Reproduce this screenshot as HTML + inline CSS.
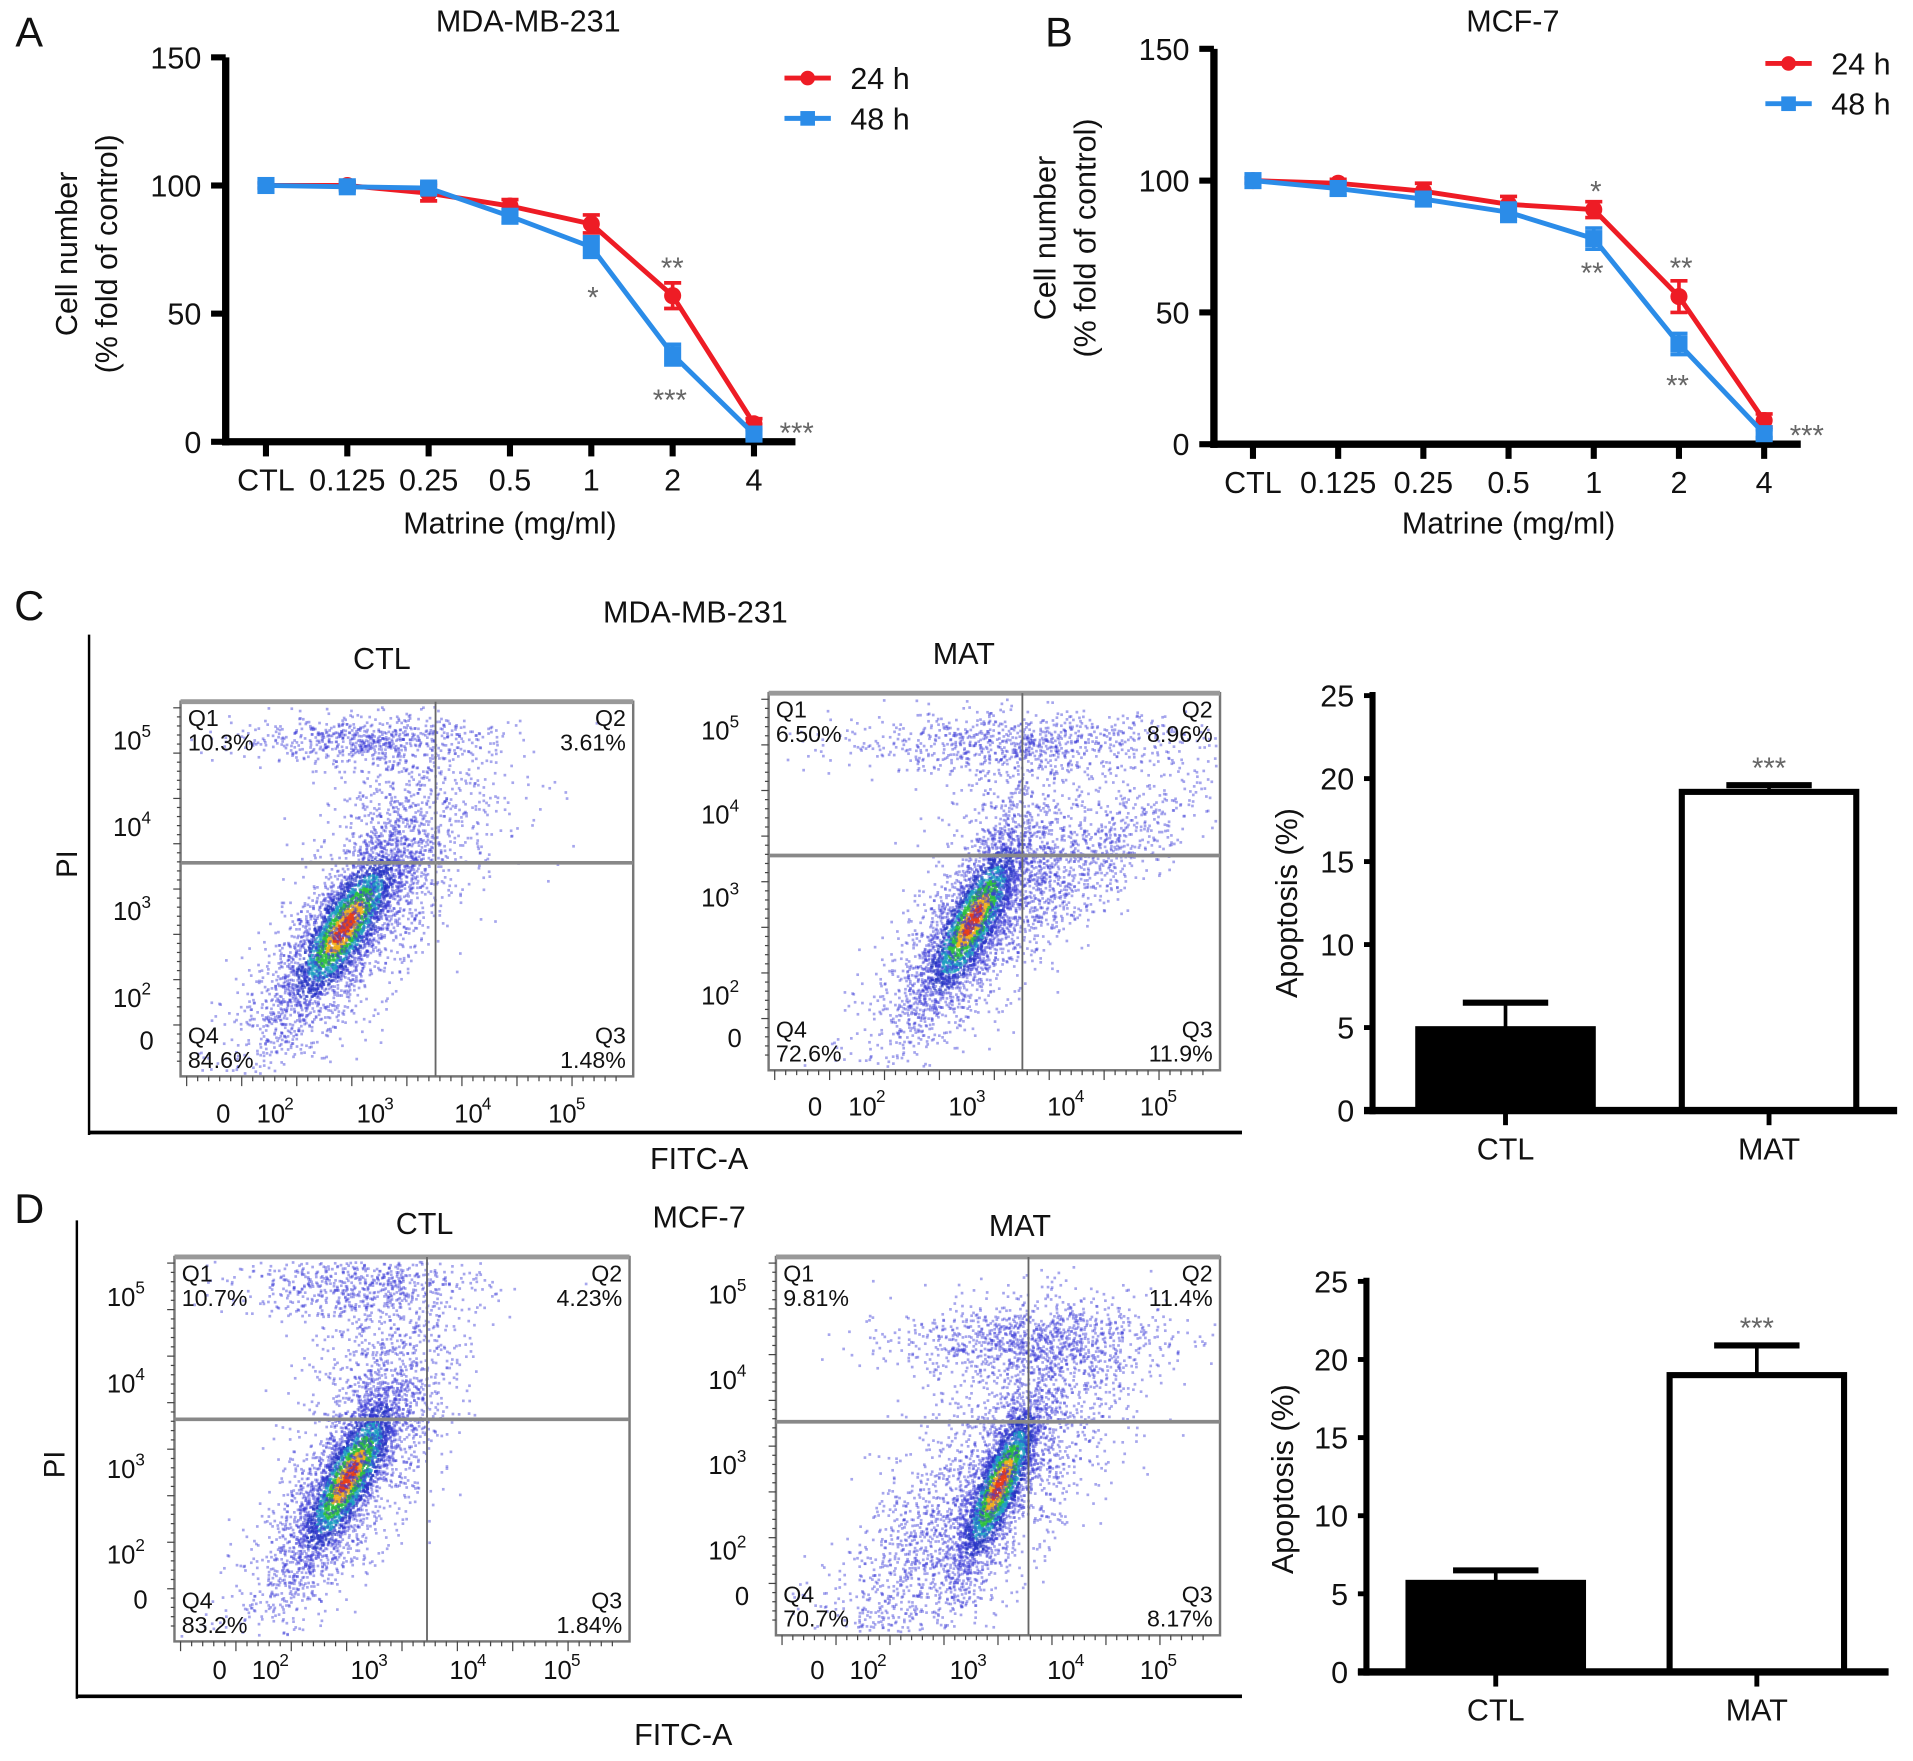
<!DOCTYPE html>
<html><head><meta charset="utf-8"><style>
html,body{margin:0;padding:0;background:#fff}
svg{display:block}
text{font-family:"Liberation Sans",sans-serif;fill:#111}
</style></head><body>
<svg id="fig" width="1913" height="1761" viewBox="0 0 1568 1443" preserveAspectRatio="none" xmlns="http://www.w3.org/2000/svg">
<g id="root"></g>
</svg>
<script>
// ---- Data ----
const doseLabels = ["CTL","0.125","0.25","0.5","1","2","4"];
const yTicksLine = [0,50,100,150];
const a24 = [100,100,97,92,85,57,7];
const a24err = [1,1.5,3,2.5,3.5,5,2];
const a48 = [100,99.5,99,88,76,34,3];
const a48err = [1,1.5,2,2.5,4,4,1.5];
const b24 = [100,99,96,91,89,56,9];
const b24err = [1,1.5,3,3,3,6,2.5];
const b48 = [100,97,93,88,78,38,4];
const b48err = [1,2.5,2.5,3.5,4,4,1.5];
const barCats = ["CTL","MAT"];
const barTicks = [0,5,10,15,20,25];
const cBars = [4.9,19.2];
const cErr = [1.6,0.4];
const dBars = [5.7,19.0];
const dErr = [0.8,1.9];

const NS="http://www.w3.org/2000/svg";
const root=document.getElementById('root');
function el(tag,attrs,parent,txt){const e=document.createElementNS(NS,tag);for(const k in attrs)e.setAttribute(k,attrs[k]);if(txt!==undefined)e.textContent=txt;(parent||root).appendChild(e);return e;}
function T(x,y,s,size,opt,parent){opt=opt||{};const a={x:x,y:y,'font-size':size,'text-anchor':opt.anchor||'middle'};if(opt.rot)a.transform='rotate(-90 '+x+' '+y+')';if(opt.fill)a.style='fill:'+opt.fill;const t=el('text',a,parent,s);return t;}

// ---- Line chart ----
function lineChart(o){
  const g=el('g',{});
  const ys=v=>o.yBot-(v/150)*(o.yBot-o.yTop);
  const xs=i=>o.xFirst+i*(o.xLast-o.xFirst)/6;
  el('line',{x1:o.ax,y1:o.yTop,x2:o.ax,y2:o.yBot+3,stroke:'#000','stroke-width':6},g);
  el('line',{x1:o.ax-3,y1:o.yBot,x2:o.axEnd,y2:o.yBot,stroke:'#000','stroke-width':6},g);
  yTicksLine.forEach(v=>{el('line',{x1:o.ax-12,y1:ys(v),x2:o.ax,y2:ys(v),stroke:'#000','stroke-width':5},g);T(o.ax-20,ys(v)+9,String(v),25,{anchor:'end',name:'y-tick-label'},g);});
  doseLabels.forEach((l,i)=>{el('line',{x1:xs(i),y1:o.yBot,x2:xs(i),y2:o.yBot+12,stroke:'#000','stroke-width':5},g);T(xs(i),o.yBot+40,l,25,{name:'x-tick-label'},g);});
  [[o.d24,o.e24,'#ee1c25','circle','series-24h'],[o.d48,o.e48,'#2b8ce8','square','series-48h']].forEach(s=>{
    const sg=el('g',{},g);
    el('polyline',{points:s[0].map((v,i)=>xs(i)+','+ys(v)).join(' '),fill:'none',stroke:s[2],'stroke-width':4},sg);
    s[0].forEach((v,i)=>{
      const x=xs(i),y1=ys(v+s[1][i]),y2=ys(v-s[1][i]);
      el('line',{x1:x,y1:y1,x2:x,y2:y2,stroke:s[2],'stroke-width':3},sg);
      el('line',{x1:x-7,y1:y1,x2:x+7,y2:y1,stroke:s[2],'stroke-width':3},sg);
      el('line',{x1:x-7,y1:y2,x2:x+7,y2:y2,stroke:s[2],'stroke-width':3},sg);
      if(s[3]==='circle')el('circle',{cx:x,cy:ys(v),r:7,fill:s[2]},sg);
      else el('rect',{x:x-7,y:ys(v)-7,width:14,height:14,fill:s[2]},sg);
    });
  });
  T(o.titleX,26+o.dy,o.title,25,{name:'chart-title'},g);
  T((o.xFirst+o.xLast)/2,437,'Matrine (mg/ml)',25,{name:'x-axis-title'},g);
  T(o.ylx,o.yly,'Cell number',25,{rot:1,name:'y-axis-title'},g);
  T(o.ylx+33,o.yly,'(% fold of control)',25,{rot:1,name:'y-axis-title-2'},g);
  const lg=el('g',{},g);
  el('line',{x1:o.lx,y1:o.ly,x2:o.lx+38,y2:o.ly,stroke:'#ee1c25','stroke-width':4},lg);el('circle',{cx:o.lx+19,cy:o.ly,r:6,fill:'#ee1c25'},lg);
  T(o.lx+54,o.ly+9,'24 h',25,{anchor:'start',name:'legend-entry'},lg);
  el('line',{x1:o.lx,y1:o.ly+33,x2:o.lx+38,y2:o.ly+33,stroke:'#2b8ce8','stroke-width':4},lg);el('rect',{x:o.lx+13,y:o.ly+27,width:12,height:12,fill:'#2b8ce8'},lg);
  T(o.lx+54,o.ly+42,'48 h',25,{anchor:'start',name:'legend-entry'},lg);
  o.stars.forEach(s=>T(s[0],s[1],s[2],24,{fill:'#666',name:'significance'},g));
}
T(24,38,'A',34,{name:'panel-label-a'});
lineChart({name:'chart-a',ax:185,axEnd:652,yTop:47,yBot:362,xFirst:218,xLast:618,d24:a24,e24:a24err,d48:a48,e48:a48err,title:'MDA-MB-231',titleX:433,dy:0,ylx:63,yly:208,lx:643,ly:64,
 stars:[[551,228,'**'],[486,252,'*'],[549,336,'***'],[653,363,'***']]});
T(868,38,'B',34,{name:'panel-label-b'});
lineChart({name:'chart-b',ax:995,axEnd:1476,yTop:40,yBot:364,xFirst:1027,xLast:1446,d24:b24,e24:b24err,d48:b48,e48:b48err,title:'MCF-7',titleX:1240,dy:0,ylx:865,yly:195,lx:1447,ly:52,
 stars:[[1308,165,'*'],[1305,232,'**'],[1378,228,'**'],[1375,324,'**'],[1481,365,'***']]});

// ---- Flow plots ----
let seed=12345;function rnd(){seed=(seed*1103515245+12345)%2147483648;return seed/2147483648;}
function gauss(){let u=rnd()||1e-6,v=rnd();return Math.sqrt(-2*Math.log(u))*Math.cos(2*Math.PI*v);}
function flow(o){
  const g=el('g',{});
  const W=o.x1-o.x0,H=o.y1-o.y0;
  const pts=el('g',{},g);
  o.clusters.forEach(c=>{
    for(let i=0;i<c.n;i++){
      const a=gauss(),b=gauss();
      const u=a*c.sx, v=(c.rho*a+Math.sqrt(1-c.rho*c.rho)*b)*c.sy;
      const fx=c.cx+u, fy=c.cy-v;
      if(fx<0.01||fx>0.99||fy<0.01||fy>0.99)continue;
      const r=Math.sqrt(a*a+b*b);let col='#3a3ad8',op=0.45;
      if(c.dense){if(r<0.35){col='#e8401a';op=.9}else if(r<0.6){col='#f0b020';op=.85}else if(r<0.9){col='#30c040';op=.8}else if(r<1.2){col='#20a0c0';op=.7}else if(r<1.6){col='#2030c0';op=.6}}
      el('rect',{x:o.x0+fx*W,y:o.y0+fy*H,width:2.2,height:2.2,fill:col,opacity:op},pts);
    }
  });
  el('rect',{x:o.x0,y:o.y0,width:W,height:H,fill:'none',stroke:'#777','stroke-width':2},g);
  el('line',{x1:o.x0,y1:o.y0,x2:o.x1,y2:o.y0,stroke:'#999','stroke-width':4},g);
  el('line',{x1:o.qx,y1:o.y0,x2:o.qx,y2:o.y1,stroke:'#666','stroke-width':1.5},g);
  el('line',{x1:o.x0,y1:o.qy,x2:o.x1,y2:o.qy,stroke:'#888','stroke-width':3},g);
  for(let i=0;i<40;i++){el('line',{x1:o.x0+5+i*(W-10)/40,y1:o.y1,x2:o.x0+5+i*(W-10)/40,y2:o.y1+(i%5?4:8),stroke:'#444','stroke-width':1},g);}
  for(let i=0;i<40;i++){el('line',{x1:o.x0,y1:o.y0+5+i*(H-10)/40,x2:o.x0-(i%5?3:6),y2:o.y0+5+i*(H-10)/40,stroke:'#444','stroke-width':1},g);}
  T(o.x0+6,o.y0+20,'Q1',19,{anchor:'start',name:'q1-label'},g);T(o.x0+6,o.y0+40,o.q[0],19,{anchor:'start',name:'q1-value'},g);
  T(o.x1-6,o.y0+20,'Q2',19,{anchor:'end',name:'q2-label'},g);T(o.x1-6,o.y0+40,o.q[1],19,{anchor:'end',name:'q2-value'},g);
  T(o.x1-6,o.y1-27,'Q3',19,{anchor:'end',name:'q3-label'},g);T(o.x1-6,o.y1-7,o.q[2],19,{anchor:'end',name:'q3-value'},g);
  T(o.x0+6,o.y1-27,'Q4',19,{anchor:'start',name:'q4-label'},g);T(o.x0+6,o.y1-7,o.q[3],19,{anchor:'start',name:'q4-value'},g);
  T(o.titleX,o.titleY,o.title,25,{name:'plot-title'},g);
  o.yt.forEach((y,i)=>{
    if(i===4){T(o.x0-22,y+8,'0',21,{anchor:'end',name:'y-tick-label'},g);}
    else{T(o.x0-32,y+8,'10',21,{anchor:'end',name:'y-tick-label'},g);T(o.x0-32,y-2,String(5-i),14,{anchor:'start',name:'y-tick-exp'},g);}
  });
  o.xt.forEach((x,i)=>{
    if(i===0)T(x,o.xly,'0',21,{name:'x-tick-label'},g);
    else{T(x-4,o.xly,'10',21,{name:'x-tick-label'},g);T(x+7,o.xly-11,String(i+1),14,{anchor:'start',name:'x-tick-exp'},g);}
  });
}
T(24,508,'C',34,{name:'panel-label-c'});
T(570,510,'MDA-MB-231',25,{name:'panel-c-title'});
el('line',{x1:73,y1:520,x2:73,y2:930,stroke:'#000','stroke-width':2});
el('line',{x1:73,y1:928,x2:1018,y2:928,stroke:'#000','stroke-width':3});
T(63,708,'PI',24,{rot:1,name:'pi-axis-title'});
T(573,958,'FITC-A',25,{name:'fitc-axis-title'});
flow({name:'flow-c-ctl',x0:148,x1:519,y0:575,y1:882,qx:357,qy:707,title:'CTL',titleX:313,titleY:548,q:['10.3%','3.61%','1.48%','84.6%'],
 yt:[606,677,746,817,852],xt:[183,226,308,388,465],xly:920,
 clusters:[{cx:.36,cy:.6,sx:.07,sy:.12,rho:.8,n:2600,dense:1},{cx:.36,cy:.63,sx:.13,sy:.2,rho:.8,n:1400},{cx:.4,cy:.1,sx:.14,sy:.03,rho:0,n:600},{cx:.47,cy:.35,sx:.08,sy:.18,rho:.3,n:600},{cx:.6,cy:.3,sx:.12,sy:.15,rho:.2,n:180}]});
flow({name:'flow-c-mat',x0:630,x1:1000,y0:568,y1:877,qx:838,qy:701,title:'MAT',titleX:790,titleY:544,q:['6.50%','8.96%','11.9%','72.6%'],
 yt:[598,667,735,815,850],xt:[668,711,793,874,950],xly:914,
 clusters:[{cx:.45,cy:.6,sx:.06,sy:.12,rho:.8,n:2400,dense:1},{cx:.46,cy:.62,sx:.13,sy:.2,rho:.8,n:1400},{cx:.55,cy:.13,sx:.2,sy:.04,rho:0,n:800},{cx:.68,cy:.47,sx:.16,sy:.14,rho:.85,n:900},{cx:.52,cy:.35,sx:.08,sy:.18,rho:.2,n:400}]});

T(24,1002,'D',34,{name:'panel-label-d'});
T(573,1006,'MCF-7',25,{name:'panel-d-title'});
el('line',{x1:63,y1:1000,x2:63,y2:1392,stroke:'#000','stroke-width':2});
el('line',{x1:63,y1:1390,x2:1018,y2:1390,stroke:'#000','stroke-width':3});
T(53,1200,'PI',24,{rot:1,name:'pi-axis-title-d'});
T(560,1430,'FITC-A',25,{name:'fitc-axis-title-d'});
flow({name:'flow-d-ctl',x0:143,x1:516,y0:1030,y1:1345,qx:350,qy:1163,title:'CTL',titleX:348,titleY:1011,q:['10.7%','4.23%','1.84%','83.2%'],
 yt:[1062,1133,1203,1273,1310],xt:[180,222,303,384,461],xly:1376,
 clusters:[{cx:.38,cy:.57,sx:.06,sy:.12,rho:.8,n:2600,dense:1},{cx:.37,cy:.6,sx:.12,sy:.2,rho:.8,n:1400},{cx:.4,cy:.07,sx:.14,sy:.04,rho:0,n:600},{cx:.44,cy:.3,sx:.08,sy:.18,rho:.2,n:700}]});
flow({name:'flow-d-mat',x0:636,x1:1000,y0:1030,y1:1340,qx:843,qy:1165,title:'MAT',titleX:836,titleY:1013,q:['9.81%','11.4%','8.17%','70.7%'],
 yt:[1060,1130,1200,1270,1307],xt:[670,712,794,874,950],xly:1376,
 clusters:[{cx:.5,cy:.6,sx:.05,sy:.12,rho:.8,n:2400,dense:1},{cx:.42,cy:.7,sx:.17,sy:.22,rho:.8,n:2000},{cx:.57,cy:.22,sx:.15,sy:.05,rho:0,n:1000},{cx:.55,cy:.4,sx:.12,sy:.18,rho:.3,n:600}]});

// ---- Bar charts ----
function bars(o){
  const g=el('g',{});
  const ys=v=>o.yBot-(v/25)*(o.yBot-o.yTop);
  barTicks.forEach(v=>{el('line',{x1:o.ax-7,y1:ys(v),x2:o.ax,y2:ys(v),stroke:'#000','stroke-width':4},g);T(o.ax-15,ys(v)+9,String(v),25,{anchor:'end',name:'y-tick-label'},g);});
  o.vals.forEach((v,i)=>{
    const cx=o.cx[i],w=o.w;
    const r=el('rect',{x:cx-w/2+2.5,y:ys(v),width:w-5,height:o.yBot-ys(v),fill:i?'#fff':'#000',stroke:'#000','stroke-width':5},g);
    
    const top=ys(v+o.err[i]);
    el('line',{x1:cx,y1:ys(v),x2:cx,y2:top,stroke:'#000','stroke-width':3},g);
    el('line',{x1:cx-35,y1:top,x2:cx+35,y2:top,stroke:'#000','stroke-width':5},g);
    el('line',{x1:cx,y1:o.yBot,x2:cx,y2:o.yBot+12,stroke:'#000','stroke-width':4},g);
    T(cx,o.yBot+40,barCats[i],25,{name:'x-tick-label'},g);
  });
  T(o.cx[1],ys(o.vals[1]+o.err[1])-6,'***',24,{fill:'#666',name:'significance'},g);
  el('line',{x1:o.ax,y1:o.yTop-3,x2:o.ax,y2:o.yBot+3,stroke:'#000','stroke-width':5},g);
  el('line',{x1:o.ax-7,y1:o.yBot,x2:o.axEnd,y2:o.yBot,stroke:'#000','stroke-width':6},g);
  T(o.ylx,o.yly,'Apoptosis (%)',25,{rot:1,name:'y-axis-title'},g);
}
bars({name:'bar-chart-c',ax:1125,axEnd:1555,yTop:570,yBot:910,cx:[1234,1450],w:148,vals:cBars,err:cErr,ylx:1063,yly:740});
bars({name:'bar-chart-d',ax:1120,axEnd:1548,yTop:1050,yBot:1370,cx:[1226,1440],w:148,vals:dBars,err:dErr,ylx:1060,yly:1212});
</script>
</body></html>
